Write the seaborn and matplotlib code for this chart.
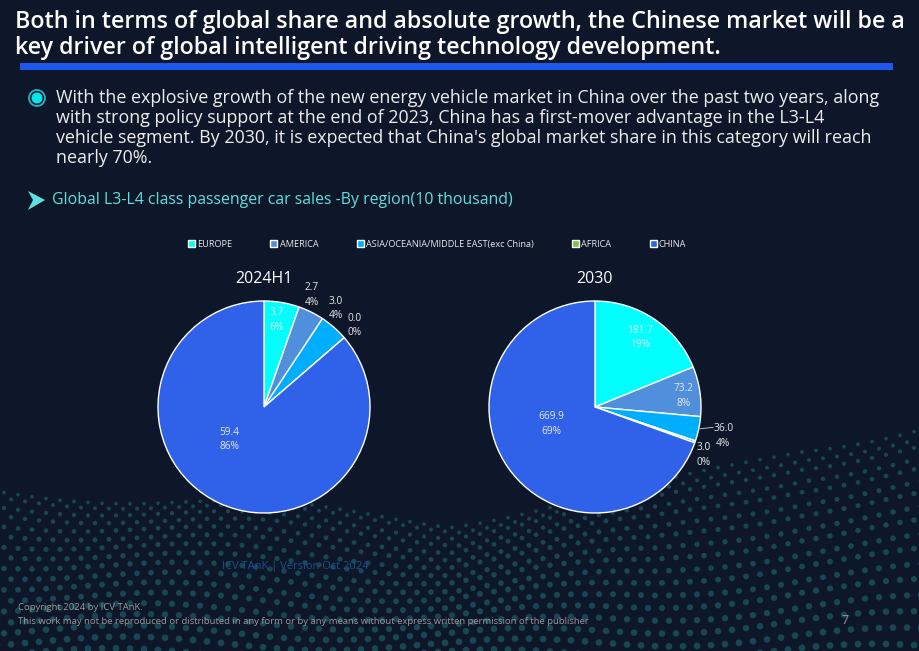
import numpy as np
import matplotlib
matplotlib.use("Agg")
import matplotlib.pyplot as plt
from matplotlib.patches import Rectangle, Circle, Polygon
import seaborn as sns

# data (10 thousand units)
regions = ["EUROPE", "AMERICA", "ASIA/OCEANIA/MIDDLE EAST(exc China)", "AFRICA", "CHINA"]
sales_2024h1 = [3.7, 2.7, 3.0, 0.0, 59.4]
share_2024h1 = ["6%", "4%", "4%", "0%", "86%"]
sales_2030 = [181.7, 73.2, 36.0, 3.0, 669.9]
share_2030 = ["19%", "8%", "4%", "0%", "69%"]
pie_titles = ["2024H1", "2030"]

colors = ["#00FFFF", "#4F8FDB", "#00AEFF", "#7DC242", "#2F62E8"]
BG = "#0E172A"

# label placement (radius factor, angle in deg) per wedge
label_pos_left = [(0.83, 82), (1.15, 67), (1.15, 54), (1.15, 42), (0.45, 223)]
label_pos_right = [(0.78, 57), (0.84, 7), (1.24, -12.8), (1.12, -23.8), (0.44, 201)]

sns.set_theme(style="dark")
plt.rcParams["font.family"] = ["Open Sans", "DejaVu Sans"]

W, H = 920, 651
fig = plt.figure(figsize=(9.2, 6.51), dpi=100, facecolor=BG)


def px(x, y):
    return x / W, 1 - y / H


# background dot wave (decoration)
bg = fig.add_axes([0, 0, 1, 1], zorder=-5)
bg.set_xlim(0, W)
bg.set_ylim(H, 0)
bg.axis("off")
bg.set_facecolor(BG)
gx = np.arange(-10, W + 20, 14.0)
top = np.interp(gx, [0, 250, 450, 650, 800, 920], [492, 505, 522, 490, 448, 428])
dx, dy, ds = [], [], []
for j in range(18):
    v = j / 17
    ys = top + (H + 15 - top) * v ** 1.2 + 6 * np.sin(gx / 60 + 3 * v)
    xs = gx + (j % 2) * 7
    dx.extend(xs)
    dy.extend(ys)
    ds.extend(np.full(len(xs), 7 + 18 * v))
bg.scatter(dx, dy, s=ds, color="#1F6670", alpha=0.6, linewidths=0, marker="o")

# title
fig.text(*px(15, 22), "Both in terms of global share and absolute growth, the Chinese market will be a",
         color="white", fontsize=16.75, fontweight="semibold", va="center", ha="left")
fig.text(*px(15, 48), "key driver of global intelligent driving technology development.",
         color="white", fontsize=16.75, fontweight="semibold", va="center", ha="left")
bg.add_patch(Rectangle((20, 63), 873, 7, color="#1E56F0", lw=0))

# bullet
bg.add_patch(Circle((37, 98), 8, facecolor="none", edgecolor="#1FB5C0", lw=1.3))
bg.add_patch(Circle((37, 98), 5.5, facecolor="#00E5F0", lw=0))
body = ["With the explosive growth of the new energy vehicle market in China over the past two years, along",
        "with strong policy support at the end of 2023, China has a first-mover advantage in the L3-L4",
        "vehicle segment. By 2030, it is expected that China's global market share in this category will reach",
        "nearly 70%."]
for k, line in enumerate(body):
    fig.text(*px(56, 98 + 20 * k), line, color="#EDEDED", fontsize=12.85, va="center", ha="left")

# sub heading
bg.add_patch(Polygon([(28, 191), (45, 200), (28, 210), (33, 200)], closed=True,
                     facecolor="#5FE0DD", edgecolor="none"))
fig.text(*px(52, 200), "Global L3-L4 class passenger car sales -By region(10 thousand)",
         color="#5FE0DD", fontsize=11.4, va="center", ha="left")

# pies
R = 106
centers = [(264, 407), (595, 407)]
datasets = [(sales_2024h1, share_2024h1, label_pos_left), (sales_2030, share_2030, label_pos_right)]
wedges_for_legend = None
for (cx, cy), title, (vals, shares, lpos) in zip(centers, pie_titles, datasets):
    l, b = px(cx - R, cy + R)
    ax = fig.add_axes([l, b, 2 * R / W, 2 * R / H])
    ax.set_facecolor("none")
    wedges, _ = ax.pie(vals, colors=colors, startangle=90, counterclock=False, radius=1,
                       wedgeprops=dict(edgecolor="white", linewidth=1.0))
    if wedges_for_legend is None:
        wedges_for_legend = wedges
    ax.set_xlim(-1, 1)
    ax.set_ylim(-1, 1)
    ax.set_aspect("equal")
    ax.axis("off")
    for w, v, s, (r, ang) in zip(wedges, vals, shares, lpos):
        a = np.deg2rad(ang)
        ax.text(r * np.cos(a), r * np.sin(a), f"{v:.1f}\n{s}", ha="center", va="center",
                color="#E8E8E8", fontsize=7.3, linespacing=1.45, clip_on=False)
    ax.set_title(title, color="white", fontsize=11.5, pad=13)
    if title == "2030":
        w = wedges[2]
        mid = np.deg2rad((w.theta1 + w.theta2) / 2)
        ax.plot([1.0 * np.cos(mid), 1.12 * np.cos(mid) + 0.02],
                [1.0 * np.sin(mid), 1.12 * np.sin(mid) + 0.04],
                color="#BBBBBB", lw=0.7, clip_on=False)

# legend
leg = fig.legend(wedges_for_legend, regions, loc="center", bbox_to_anchor=px(437, 244), ncol=5,
                 frameon=False, fontsize=6.6, handlelength=0.75, handleheight=0.75, handletextpad=0.25,
                 columnspacing=4.2, labelcolor="#E8E8E8")

# footer
fig.text(*px(222, 566), "ICV TAnK | Version Oct 2024", color="#1C4F8C", fontsize=8, va="center", ha="left")
fig.text(*px(18, 608), "Copyright 2024 by ICV TAnK.", color="#9A9A9A", fontsize=6.8, va="center", ha="left")
fig.text(*px(18, 622),
         "This work may not be reproduced or distributed in any form or by any means without express written permission of the publisher",
         color="#9A9A9A", fontsize=6.8, va="center", ha="left")
fig.text(*px(845, 620), "7", color="#9A9A9A", fontsize=9, va="center", ha="center")

fig.savefig("out.png", dpi=100, facecolor=BG)
